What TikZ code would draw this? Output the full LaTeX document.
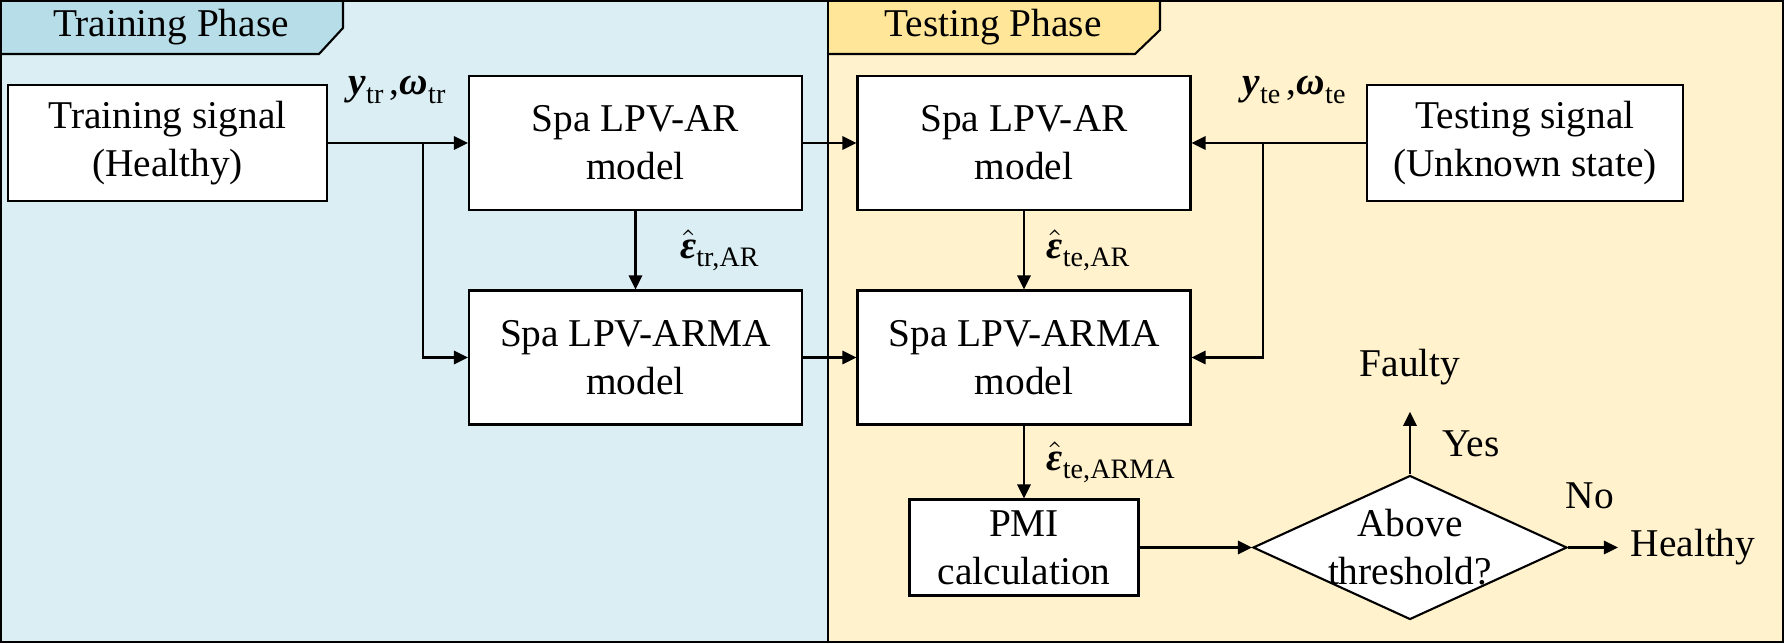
\documentclass[tikz,border=0pt]{standalone}
\usepackage{fontspec}
\setmainfont{Liberation Serif}
\usepackage{amsmath}
\usepackage{xcolor}
\usetikzlibrary{arrows.meta, shapes.geometric}

\definecolor{trainbg}{HTML}{DAEEF3}
\definecolor{traintab}{HTML}{B7DEE8}
\definecolor{testbg}{HTML}{FFF2CC}
\definecolor{testtab}{HTML}{FFE699}

\newcommand{\sigvar}[2]{\textbf{\textit{#1}}\raisebox{-0.45ex}{\fontsize{8}{8}\selectfont #2}}
\newcommand{\reshat}[1]{$\hat{\mbox{\textbf{\textit{ε}}}}$\raisebox{-0.45ex}{\fontsize{8}{8}\selectfont #1}}

\begin{document}
\begin{tikzpicture}[>={Triangle[length=4pt,width=3.8pt]}, line width=0.6pt,
	font=\fontsize{11.2}{13.6}\selectfont,
	block/.style={draw, fill=white, align=center, inner sep=0pt},
	model/.style={block, minimum width=3.33cm, minimum height=1.34cm},
	signal/.style={block, minimum height=1.16cm}]
	\useasboundingbox (0,0) rectangle (17.84,6.43);
	
	% phases
	\fill [trainbg] (0,0) rectangle (8.28,6.43);
	\fill [testbg] (8.28,0) rectangle (17.84,6.43);
	\draw [fill=traintab] (0,6.43) -- (3.43,6.43) -- (3.43,6.15) -- (3.19,5.89) -- (0,5.89);
	\draw [fill=testtab] (8.28,6.43) -- (11.60,6.43) -- (11.60,6.13) -- (11.35,5.89) -- (8.28,5.89);
	\draw (8.28,0) -- (8.28,6.43);
	\draw (0.01,0.01) rectangle (17.83,6.42);
	\node (trainlabel) at (1.71,6.16) {Training Phase};
	\node (testlabel) at (9.93,6.16) {Testing Phase};
	
	\node [signal, minimum width=3.19cm] (trsig) at (1.675,5.00) {Training signal\\(Healthy)};
	\node [model] (artr) at (6.355,5.00) {Spa LPV-AR\\model};
	\node [model] (armatr) at (6.355,2.855) {Spa LPV-ARMA\\model};
	\node [model] (arte) at (10.24,5.00) {Spa LPV-AR\\model};
	\node [model] (armate) at (10.24,2.855) {Spa LPV-ARMA\\model};
	\node [signal, minimum width=3.16cm] (tesig) at (15.25,5.00) {Testing signal\\(Unknown state)};
	\node [block, minimum width=2.29cm, minimum height=0.96cm] (pmi) at (10.24,0.955) {PMI\\calculation};
	\node [draw, fill=white, shape=diamond, aspect=2.18, align=center, inner xsep=-2pt, inner ysep=-2pt,
		minimum width=3.14cm, minimum height=1.44cm] (check) at (14.10,0.955) {Above\\threshold?};
	
	\node (trin) at (3.97,5.53) {\sigvar{y}{tr}\,,\sigvar{ω}{tr}};
	\node (tein) at (12.94,5.53) {\sigvar{y}{te}\,,\sigvar{ω}{te}};
	\node (faulty) at (14.10,2.76) {Faulty};
	\node (healthy) at (16.93,0.955) {Healthy};
	\node (yes) at (14.71,1.99) {Yes};
	\node (no) at (15.90,1.47) {No};
	
	\coordinate (trsplit) at (4.23,5.00);
	\coordinate (tesplit) at (12.63,5.00);
	
	\draw [->] (trsig) -- (artr);
	\draw [->] (trsplit) |- (armatr);
	\draw [->] (artr) -- (armatr) node [midway, right=0.32cm] {\reshat{tr,AR}};
	\draw [->] (artr) -- (arte);
	\draw [->] (armatr) -- (armate);
	\draw [->] (tesig) -- (arte);
	\draw [->] (tesplit) |- (armate);
	\draw [->] (arte) -- (armate) node [midway, right=0.1cm] {\reshat{te,AR}};
	\draw [->] (armate) -- (pmi) node [midway, right=0.1cm] {\reshat{te,ARMA}};
	\draw [->] (pmi) -- (check);
	\draw [->, shorten >=4pt] (check) -- (faulty);
	\draw [->] (check) -- (healthy);
\end{tikzpicture}
\end{document}
